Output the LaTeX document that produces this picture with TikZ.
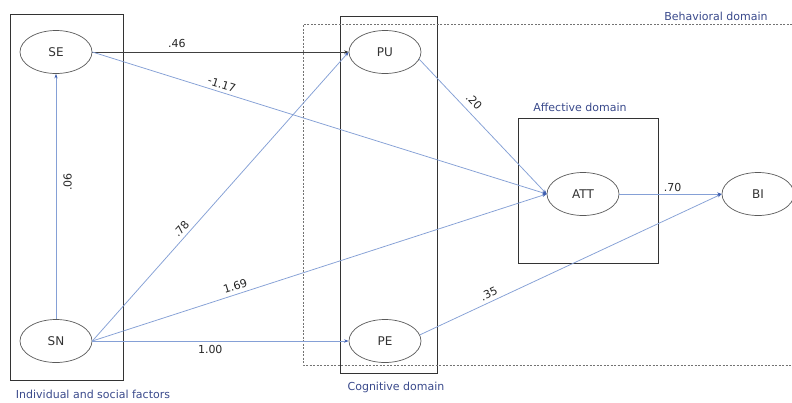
\documentclass[tikz,border=0pt]{standalone}
\usepackage{fontspec}
\setmainfont{DejaVu Sans}
\usetikzlibrary{shapes.geometric,arrows.meta}
\definecolor{linkblue}{HTML}{85A0D6}
\definecolor{tipblue}{HTML}{3F5FB0}
\definecolor{domainblue}{HTML}{3A4A8C}
\definecolor{outline}{HTML}{5A5A5A}
\begin{document}
\begin{tikzpicture}[x=1pt,y=-1pt,
  construct/.style={ellipse, draw=outline, line width=0.7pt, minimum width=72pt,
    minimum height=43pt, inner sep=0pt, font=\fontsize{12}{14}\selectfont, text=black!80},
  groupbox/.style={draw=black!80, line width=0.8pt},
  domainbox/.style={draw=black!55, line width=0.6pt, dash pattern=on 2pt off 1.5pt},
  domainlabel/.style={text=domainblue, font=\fontsize{11}{13}\selectfont, inner sep=0pt},
  pathcoef/.style={draw=linkblue, line width=0.75pt, -{Stealth[length=4.5pt,width=3.2pt,color=tipblue]}},
  darkpath/.style={draw=black!75, line width=0.75pt, -{Stealth[length=4.5pt,width=3.2pt,color=black!80]}},
  coef/.style={font=\fontsize{11}{13}\selectfont, text=black!85, inner sep=3.5pt, sloped}
]
\useasboundingbox[fill=white] (0,0) rectangle (792,402);

% group frames
\draw[groupbox] (10,14) rectangle (123,380);
\draw[groupbox] (340,16) rectangle (437,373);
\draw[groupbox] (518,118) rectangle (658,263);
\draw[domainbox] (792,24) -- (303,24) -- (303,365) -- (792,365);

% group captions
\node[domainlabel] (lblind) at (93,394) {Individual and social factors};
\node[domainlabel] (lblcog) at (396,387) {Cognitive domain};
\node[domainlabel] (lblaff) at (580,107) {Affective domain};
\node[domainlabel] (lblbeh) at (716,16) {Behavioral domain};

% constructs
\node[construct] (SE)  at (56,52)   {SE};
\node[construct] (SN)  at (56,341)  {SN};
\node[construct] (PU)  at (385,52)  {PU};
\node[construct] (PE)  at (385,341) {PE};
\node[construct] (ATT) at (583,194) {ATT};
\node[construct] (BI)  at (758,194) {BI};

% structural paths
\draw[darkpath] (SE.east) -- node[coef, pos=0.33, above] {.46} (PU.west);
\draw[pathcoef] (SE.east) -- node[coef, pos=0.28, above] {-1.17} (ATT.west);
\draw[pathcoef] (SN.north) -- node[coef, pos=0.56, below, inner sep=7pt] {.06} (SE.south);
\draw[pathcoef] (SN.east) -- node[coef, pos=0.37, above] {.78} (PU.west);
\draw[pathcoef] (SN.east) -- node[coef, pos=0.32, above] {1.69} (ATT.west);
\draw[pathcoef] (SN.east) -- node[coef, pos=0.46, below] {1.00} (PE.west);
\draw[pathcoef] (PU.-12) -- node[coef, pos=0.37, above, inner sep=6pt] {.20} (ATT.west);
\draw[pathcoef] (PE.10) -- node[coef, pos=0.24, above] {.35} (BI.west);
\draw[pathcoef] (ATT.east) -- node[coef, pos=0.52, above, inner sep=2pt] {.70} (BI.west);
\end{tikzpicture}
\end{document}
